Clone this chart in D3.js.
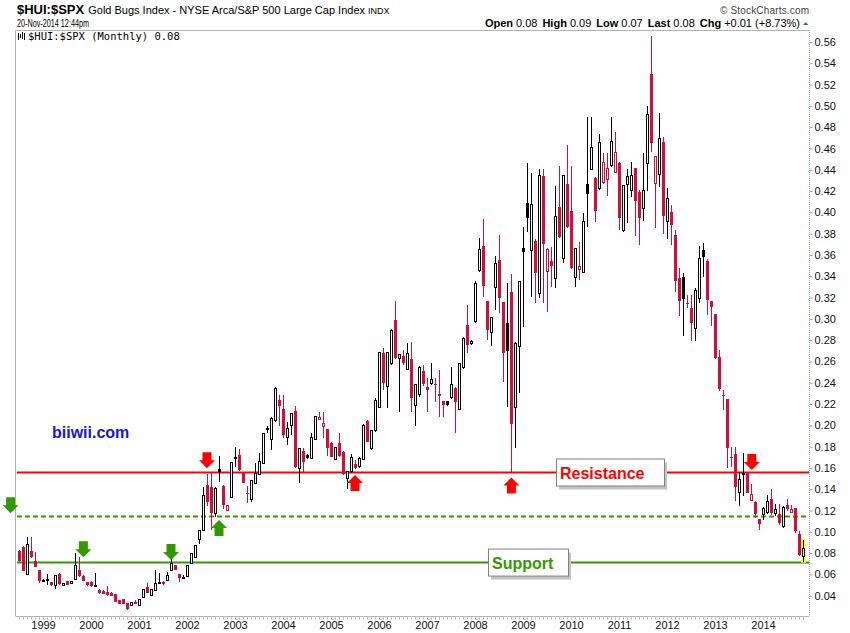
<!DOCTYPE html>
<html>
<head>
<meta charset="utf-8">
<script src="https://cdn.jsdelivr.net/npm/d3@7"></script>
<style>
  body { margin: 0; background: #fff; }
  svg { display: block; font-family: "Liberation Sans", Arial, sans-serif; }
</style>
</head>
<body>
<div id="chart"></div>
<script>
// monthly candles, Jul 1998 .. Nov 2014
var startYear = 1998;
var startMonth = 6; // July (0-based)

var opens = [
  .0821, .0862, .0602, .0821, .0727, .0643, .0540, .0546, .0527, .0492,
  .0605, .0492, .0536, .0511, .0555, .0643, .0586, .0524, .0533, .0490,
  .0455, .0445, .0439, .0430, .0417, .0355, .0367, .0330, .0305, .0345,
  .0305, .0386, .0486, .0398, .0449, .0520, .0533, .0542, .0636, .0690,
  .0605, .0573, .0580, .0705, .0761, .0924, .1012, .1441, .1425, .1168,
  .1588, .1431, .1197, .1325, .1695, .1722, .1550, .1365, .1300, .1456,
  .1535, .1644, .1960, .1863, .2044, .2238, .2154, .1884, .1994, .2135,
  .1596, .1759, .1722, .1690, .1869, .2057, .1988, .1963, .1831, .1681,
  .1831, .1747, .1503, .1565, .1637, .1612, .1681, .2041, .1784, .1950,
  .2169, .2683, .2363, .2576, .2989, .2629, .2651, .2529, .2620, .2185,
  .2285, .2514, .2363, .2395, .2392, .2291, .2229, .2229, .2263, .2354,
  .2150, .2545, .2942, .2770, .2974, .3453, .3685, .3168, .2871, .3297,
  .3554, .3156, .2965, .3250, .2170, .2740, .3670, .4086, .3638, .3732,
  .3240, .4342, .3444, .3544, .3381, .4048, .3569, .4267, .4014, .3391,
  .3466, .3438, .4264, .4405, .4320, .4226, .4283, .4311, .4436, .4377,
  .4461, .3826, .4258, .4204, .4414, .4189, .4038, .4461, .5300, .4270,
  .4358, .4661, .3913, .4004, .3788, .3381, .3394, .3150, .3100, .2912,
  .3193, .3647, .3547, .3169, .3046, .2639, .2285, .2248, .1700, .1729,
  .1369, .1540, .1550, .1294, .1284, .1118, .1159, .1181, .1306, .1175,
  .1165, .1050, .1253, .1181, .1222, .0981, .0768
];

var highs = [
  .0830, .0870, .0949, .0949, .0808, .0645, .0560, .0605, .0530, .0590,
  .0610, .0520, .0540, .0540, .0799, .0761, .0590, .0530, .0540, .0611,
  .0460, .0450, .0495, .0432, .0420, .0358, .0370, .0332, .0338, .0360,
  .0365, .0460, .0517, .0458, .0643, .0611, .0536, .0627, .0783, .0693,
  .0607, .0590, .0683, .0796, .0870, .1012, .1425, .1545, .1560, .1420,
  .1713, .1435, .1250, .1655, .1801, .1775, .1555, .1431, .1485, .1644,
  .1738, .1930, .1990, .2080, .2360, .2285, .2285, .2035, .2119, .2182,
  .1790, .1784, .1730, .1925, .2090, .2129, .2129, .1970, .1840, .1800,
  .1925, .1760, .1570, .1731, .1675, .1700, .2010, .2050, .1960, .2260,
  .2690, .2723, .2690, .2900, .3170, .2670, .2708, .2770, .2786, .2390,
  .2560, .2567, .2442, .2582, .2442, .2520, .2230, .2230, .2545, .2360,
  .2590, .2830, .3130, .2800, .3360, .3757, .3938, .3170, .3020, .3591,
  .3788, .3160, .3334, .3422, .2780, .3360, .3866, .4467, .4367, .3750,
  .4405, .4405, .3670, .3679, .4248, .4436, .4350, .4633, .4439, .3670,
  .3726, .3992, .4900, .4900, .4330, .4737, .4555, .4555, .4900, .4758,
  .4470, .4260, .4405, .4470, .4420, .4211, .4555, .5000, .5657, .4530,
  .4931, .4705, .4226, .4070, .3835, .3475, .3428, .3225, .3225, .3287,
  .3685, .3710, .3560, .3170, .3050, .2710, .2333, .2250, .1800, .1800,
  .1566, .1738, .1566, .1450, .1290, .1120, .1230, .1347, .1400, .1259,
  .1262, .1240, .1306, .1253, .1225, .1003, .0924
];

var lows = [
  .0720, .0630, .0600, .0755, .0670, .0517, .0525, .0502, .0495, .0461,
  .0505, .0490, .0500, .0508, .0550, .0580, .0535, .0495, .0485, .0486,
  .0420, .0415, .0400, .0398, .0343, .0320, .0318, .0270, .0300, .0318,
  .0300, .0384, .0428, .0395, .0445, .0518, .0505, .0540, .0633, .0640,
  .0524, .0560, .0578, .0703, .0758, .0887, .1010, .1240, .1018, .1143,
  .1472, .1212, .1195, .1320, .1613, .1575, .1460, .1275, .1280, .1450,
  .1530, .1640, .1930, .1769, .2030, .1994, .1878, .1816, .1910, .1600,
  .1462, .1565, .1680, .1681, .1860, .2050, .1878, .1715, .1700, .1670,
  .1700, .1530, .1399, .1550, .1590, .1600, .1670, .1840, .1770, .1940,
  .2160, .2332, .2160, .2570, .2620, .2129, .2570, .2520, .2129, .1994,
  .2270, .2370, .2129, .2380, .2223, .2082, .2082, .2185, .2250, .1931,
  .2140, .2530, .2680, .2750, .2960, .3440, .3209, .2802, .2746, .3084,
  .3053, .2411, .2176, .1557, .1785, .2302, .2927, .3820, .3209, .3147,
  .3200, .3153, .3068, .3303, .3287, .3760, .3522, .3850, .3470, .3303,
  .3366, .3430, .3860, .4400, .3907, .4210, .4270, .4154, .4430, .4370,
  .3835, .3820, .3904, .4148, .3782, .3694, .3923, .4204, .4571, .3857,
  .4242, .3798, .3751, .3694, .3256, .3028, .2843, .3100, .2796, .2796,
  .3147, .3397, .3037, .2934, .2620, .2326, .2145, .1597, .1613, .1294,
  .1247, .1337, .1360, .1285, .1128, .1018, .1112, .1168, .1160, .1153,
  .1065, .1034, .1200, .1178, .0987, .0770, .0721
];

var closes = [
  .0730, .0636, .0884, .0761, .0674, .0540, .0545, .0549, .0502, .0586,
  .0511, .0517, .0505, .0536, .0680, .0586, .0542, .0499, .0490, .0495,
  .0424, .0417, .0402, .0400, .0345, .0323, .0321, .0273, .0336, .0320,
  .0361, .0455, .0430, .0455, .0511, .0524, .0508, .0586, .0699, .0643,
  .0564, .0574, .0680, .0793, .0868, .1009, .1337, .1284, .1181, .1409,
  .1566, .1253, .1243, .1650, .1698, .1581, .1463, .1362, .1481, .1544,
  .1660, .1926, .1966, .2066, .2348, .2182, .1910, .1972, .2107, .1612,
  .1784, .1659, .1690, .1888, .2082, .2072, .2019, .1784, .1706, .1794,
  .1712, .1543, .1565, .1700, .1596, .1690, .2003, .1847, .1950, .2229,
  .2683, .2395, .2683, .2895, .2629, .2661, .2582, .2676, .2254, .2379,
  .2545, .2388, .2332, .2426, .2382, .2279, .2188, .2191, .2379, .2223,
  .2582, .2817, .2755, .2786, .3334, .3654, .3312, .2896, .3015, .3522,
  .3193, .2683, .2702, .2010, .2765, .3353, .3632, .3945, .4076, .3428,
  .4342, .3701, .3654, .3500, .3960, .3773, .4342, .3860, .3481, .3663,
  .3491, .3913, .4170, .4611, .4017, .4658, .4471, .4414, .4665, .4564,
  .3945, .4251, .4333, .4348, .4110, .3951, .4208, .4915, .4655, .4521,
  .4696, .3970, .4132, .3882, .3359, .3172, .3184, .3147, .2965, .3269,
  .3569, .3585, .3178, .3115, .2630, .2339, .2280, .1785, .1697, .1425,
  .1488, .1545, .1369, .1353, .1165, .1071, .1222, .1284, .1175, .1206,
  .1081, .1231, .1215, .1212, .1003, .07781, .0846
];

var yTicks = d3.range(2, 29).map(function(k) { return k * 0.02; });

var resistanceLevel = 0.1557;
var dashedLevel = 0.1143;
var supportLevel = 0.0711;

// annotation arrows: candle index, value at the tip, direction
var arrowIdx = [47, 183.2, 84, 123.1, -2.1, 16.1, 38, 50];
var arrowVal = [0.1597, 0.1581, 0.1534, 0.1509, 0.1175, 0.0761, 0.0736, 0.1112];
var arrowDir = ["down", "down", "up", "up", "down", "down", "down", "up"];
var arrowKind = ["red", "red", "red", "red", "green", "green", "green", "green"];

// set graph dimensions
var svgWidth = 850;
var svgHeight = 633;
var plot = { left: 17, right: 809, top: 30, bottom: 616 };

var candleRed = "#d10f3d";
var lineRed = "#ff0000";
var green = "#339900";

var data = opens.map(function(o, i) {
  return {
    i: i,
    open: o,
    high: highs[i],
    low: lows[i],
    close: closes[i],
    prev: i > 0 ? closes[i - 1] : o + 1
  };
});
var n = data.length;

var svg = d3.select("#chart")
  .append("svg")
  .attr("width", svgWidth)
  .attr("height", svgHeight);

svg.append("rect")
  .attr("width", svgWidth)
  .attr("height", svgHeight)
  .attr("fill", "#fff");

// scales
var xScale = d3.scaleLinear()
  .domain([0, n - 1])
  .range([19, 803]);

var yScale = d3.scaleLinear()
  .domain([0.04, 0.56])
  .range([595.7, 42]);

// plot frame
svg.append("path")
  .attr("d", "M" + plot.right + "," + (plot.top + 0.5) + "H" + (plot.left - 1.5) + "V" + plot.bottom)
  .attr("fill", "none")
  .attr("stroke", "#b4b4b4")
  .attr("stroke-width", 1);

// right axis
var rightAxis = d3.axisRight(yScale)
  .tickValues(yTicks)
  .tickSize(3)
  .tickPadding(2)
  .tickFormat(d3.format(".2f"));

var yAxisG = svg.append("g")
  .attr("transform", "translate(" + (plot.right + 0.5) + ",0)")
  .call(rightAxis);
yAxisG.select(".domain").remove();
yAxisG.selectAll(".tick line").attr("stroke", "#999");
yAxisG.selectAll("text")
  .attr("font-size", 11)
  .attr("font-family", "Liberation Sans, Arial, sans-serif")
  .attr("fill", "#111");
yAxisG.append("line")
  .attr("y1", plot.top)
  .attr("y2", plot.bottom)
  .attr("stroke", "#aaa")
  .attr("stroke-dasharray", "1,1");

// bottom axis, one dot per month, year labels at January
var bottomAxis = d3.axisBottom(xScale)
  .tickValues(d3.range(n))
  .tickSize(2)
  .tickPadding(3)
  .tickFormat(function(i) {
    var m = (startMonth + i) % 12;
    return m === 0 ? String(startYear + Math.floor((startMonth + i) / 12)) : "";
  });

var xAxisG = svg.append("g")
  .attr("transform", "translate(0," + (plot.bottom + 0.5) + ")")
  .call(bottomAxis);
xAxisG.select(".domain")
  .attr("d", "M" + (plot.left - 1.5) + ",0H" + plot.right)
  .attr("stroke", "#b4b4b4");
xAxisG.selectAll(".tick line")
  .attr("stroke", "#aaa")
  .attr("transform", "translate(0,1)");
xAxisG.selectAll("text")
  .attr("font-size", 11)
  .attr("font-family", "Liberation Sans, Arial, sans-serif")
  .attr("fill", "#111");

// level lines
var chartGroup = svg.append("g");

chartGroup.append("line")
  .attr("x1", plot.left).attr("x2", plot.right)
  .attr("y1", yScale(supportLevel)).attr("y2", yScale(supportLevel))
  .attr("stroke", green).attr("stroke-width", 2);

chartGroup.append("line")
  .attr("x1", plot.left).attr("x2", plot.right)
  .attr("y1", yScale(dashedLevel)).attr("y2", yScale(dashedLevel))
  .attr("stroke", green).attr("stroke-width", 2)
  .attr("stroke-dasharray", "5,3");

chartGroup.append("line")
  .attr("x1", plot.left).attr("x2", plot.right)
  .attr("y1", yScale(resistanceLevel)).attr("y2", yScale(resistanceLevel))
  .attr("stroke", lineRed).attr("stroke-width", 2);

// candles
function candleColor(d) {
  return d.close < d.prev ? candleRed : "#000";
}

var candles = chartGroup.selectAll(".candle")
  .data(data)
  .enter()
  .append("g")
  .attr("class", "candle")
  .attr("shape-rendering", "crispEdges");

candles.append("line")
  .attr("x1", d => Math.round(xScale(d.i)) + 0.5)
  .attr("x2", d => Math.round(xScale(d.i)) + 0.5)
  .attr("y1", d => yScale(d.high))
  .attr("y2", d => yScale(d.low))
  .attr("stroke", candleColor)
  .attr("stroke-width", 1);

candles.append("rect")
  .attr("x", function(d) {
    var cx = Math.round(xScale(d.i));
    return d.close > d.open ? cx - 0.5 : cx - 1;
  })
  .attr("width", d => d.close > d.open ? 2 : 3)
  .attr("y", d => yScale(Math.max(d.open, d.close)))
  .attr("height", d => Math.max(1, Math.abs(yScale(d.open) - yScale(d.close))))
  .attr("fill", d => d.close > d.open ? "#fff" : candleColor(d))
  .attr("stroke", d => d.close > d.open ? candleColor(d) : "none")
  .attr("stroke-width", 1);

// highlight the last candle
var last = data[n - 1];
chartGroup.insert("rect", ".candle")
  .attr("x", Math.round(xScale(last.i)) - 2)
  .attr("y", yScale(last.high) - 1)
  .attr("width", 5)
  .attr("height", yScale(last.low) - yScale(last.high) + 2)
  .attr("fill", "#ffff66");

// arrows
function arrowPath(dir) {
  var s = dir === "down" ? 1 : -1;
  return "M0,0L-8," + (-8 * s) + "L-4.5," + (-8 * s) + "L-4.5," + (-16 * s) +
    "L4.5," + (-16 * s) + "L4.5," + (-8 * s) + "L8," + (-8 * s) + "Z";
}

chartGroup.selectAll(".arrow")
  .data(arrowIdx)
  .enter()
  .append("path")
  .attr("class", "arrow")
  .attr("transform", (d, k) => "translate(" + xScale(d) + "," + yScale(arrowVal[k]) + ")")
  .attr("d", (d, k) => arrowPath(arrowDir[k]))
  .attr("fill", (d, k) => arrowKind[k] === "red" ? lineRed : green);

// label boxes
function labelBox(x, level, w, label, color) {
  var cy = yScale(level);
  var g = chartGroup.append("g");
  g.append("rect")
    .attr("x", x + 3).attr("y", cy - 13 + 3)
    .attr("width", w).attr("height", 27)
    .attr("fill", "#c4c4c4");
  g.append("rect")
    .attr("x", x + 0.5).attr("y", cy - 13.5)
    .attr("width", w).attr("height", 27)
    .attr("fill", "#fff").attr("stroke", "#808080");
  g.append("text")
    .attr("x", x + 4).attr("y", cy + 6)
    .attr("font-size", 16).attr("font-weight", "bold")
    .attr("fill", color)
    .text(label);
}
labelBox(556, resistanceLevel, 108, "Resistance", lineRed);
labelBox(488, supportLevel, 80, "Support", green);

// site label
svg.append("text")
  .attr("x", 52).attr("y", 438)
  .attr("font-size", 16).attr("font-weight", "bold")
  .attr("fill", "#1414e6")
  .text("biiwii.com");

// header
var fmt = d3.format(".2f");
var chg = last.close - last.prev;
var pct = chg / last.prev * 100;

var title = svg.append("text").attr("x", 17).attr("y", 14).attr("fill", "#000");
title.append("tspan").attr("font-size", 13).attr("font-weight", "bold").text("$HUI:$SPX");
title.append("tspan").attr("font-size", 11).attr("dx", 4).text("Gold Bugs Index - NYSE Arca/S&P 500 Large Cap Index");
title.append("tspan").attr("font-size", 9).attr("dx", 3).text("INDX");

svg.append("text")
  .attr("x", 17).attr("y", 26.5)
  .attr("font-size", 10.5)
  .attr("textLength", 72)
  .attr("lengthAdjust", "spacingAndGlyphs")
  .text("20-Nov-2014 12:44pm");

svg.append("text")
  .attr("x", 720).attr("y", 14)
  .attr("font-size", 10)
  .attr("fill", "#444")
  .attr("textLength", 89)
  .attr("lengthAdjust", "spacing")
  .text("\u00a9 StockCharts.com");

var quote = svg.append("text")
  .attr("x", 800).attr("y", 26.5)
  .attr("text-anchor", "end")
  .attr("font-size", 11);
[["Open", fmt(last.open)], ["High", fmt(last.high)], ["Low", fmt(last.low)],
 ["Last", fmt(last.close)], ["Chg", (chg >= 0 ? "+" : "") + fmt(chg) + " (" + (pct >= 0 ? "+" : "") + pct.toFixed(2) + "%)"]]
  .forEach(function(p, k) {
    quote.append("tspan").attr("font-weight", "bold").attr("dx", k ? 5 : 0).text(p[0]);
    quote.append("tspan").attr("dx", 3).text(p[1]);
  });

svg.append("path")
  .attr("d", "M803,25L808.5,25L805.75,22Z")
  .attr("fill", "#2a8a2a");

// legend inside the plot
var icon = svg.append("g").attr("stroke", "#000").attr("stroke-width", 1).attr("shape-rendering", "crispEdges");
[[18.5, 33, 40], [20.5, 34, 38], [22.5, 32, 39], [24.5, 33, 40]].forEach(function(s) {
  icon.append("line").attr("x1", s[0]).attr("x2", s[0]).attr("y1", s[1]).attr("y2", s[2]);
});

svg.append("text")
  .attr("x", 28).attr("y", 39.5)
  .attr("font-family", "DejaVu Sans Mono, monospace")
  .attr("font-size", 10.5)
  .text("$HUI:$SPX (Monthly) " + fmt(last.close));
</script>
</body>
</html>
